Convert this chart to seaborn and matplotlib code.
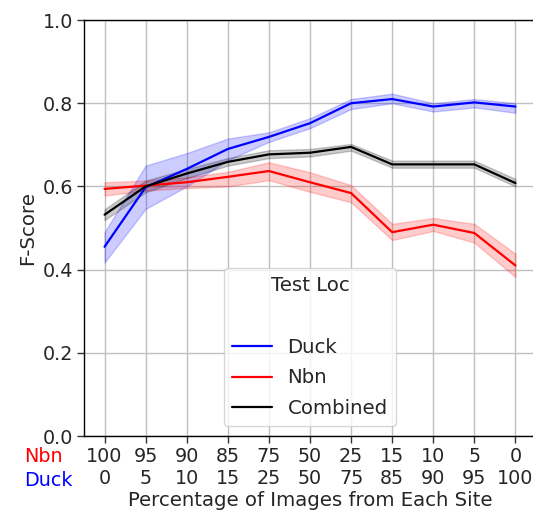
import numpy as np
import pandas as pd
import matplotlib
matplotlib.use("Agg")
import matplotlib.pyplot as plt
import seaborn as sns
from matplotlib.lines import Line2D

nbn_pct = ["100", "95", "90", "85", "75", "50", "25", "15", "10", "5", "0"]
duck_pct = ["0", "5", "10", "15", "25", "50", "75", "85", "90", "95", "100"]

duck_mid = [0.455, 0.598, 0.642, 0.690, 0.719, 0.752, 0.800, 0.810, 0.792, 0.802, 0.792]
duck_lo = [0.417, 0.546, 0.600, 0.663, 0.707, 0.740, 0.786, 0.800, 0.780, 0.790, 0.777]
duck_hi = [0.490, 0.650, 0.680, 0.715, 0.730, 0.764, 0.810, 0.823, 0.800, 0.810, 0.800]

nbn_mid = [0.594, 0.602, 0.610, 0.623, 0.637, 0.610, 0.584, 0.490, 0.508, 0.488, 0.410]
nbn_lo = [0.578, 0.590, 0.596, 0.600, 0.615, 0.587, 0.562, 0.471, 0.493, 0.465, 0.382]
nbn_hi = [0.610, 0.614, 0.622, 0.635, 0.658, 0.634, 0.603, 0.510, 0.524, 0.510, 0.438]

comb_mid = [0.532, 0.600, 0.631, 0.659, 0.677, 0.681, 0.695, 0.653, 0.653, 0.653, 0.608]
comb_lo = [0.519, 0.586, 0.620, 0.650, 0.668, 0.672, 0.686, 0.645, 0.645, 0.645, 0.600]
comb_hi = [0.545, 0.614, 0.642, 0.668, 0.687, 0.690, 0.702, 0.662, 0.662, 0.662, 0.618]

series = {"Duck": (duck_lo, duck_mid, duck_hi),
          "Nbn": (nbn_lo, nbn_mid, nbn_hi),
          "Combined": (comb_lo, comb_mid, comb_hi)}
colors = {"Duck": "blue", "Nbn": "red", "Combined": "black"}

rows = []
for name, arrs in series.items():
    for vals in arrs:
        for i, v in enumerate(vals):
            rows.append({"x": i, "F-Score": v, "Test Loc": name})
df = pd.DataFrame(rows)

sns.set_style("whitegrid")
plt.rcParams["font.family"] = ["DejaVu Sans"]
FS = 14.2
TFS = 13.8

fig = plt.figure(figsize=(5.33, 5.2), dpi=100)
ax = fig.add_axes([0.1576, 0.1615, 0.848, 0.80])

sns.lineplot(data=df, x="x", y="F-Score", hue="Test Loc", palette=colors,
             estimator=np.median, errorbar=lambda v: (v.min(), v.max()),
             linewidth=1.6, ax=ax, legend=False,
             err_kws={"alpha": 0.2, "linewidth": 1.0})

ax.set_xlim(-0.5, 10.5)
ax.set_ylim(0.0, 1.0)
ax.set_xticks(range(11))
ax.set_xticklabels([f"{a}\n{b}" for a, b in zip(nbn_pct, duck_pct)], fontsize=TFS,
                   linespacing=1.2)
ax.set_yticks([0.0, 0.2, 0.4, 0.6, 0.8, 1.0])
ax.set_yticklabels(["0.0", "0.2", "0.4", "0.6", "0.8", "1.0"], fontsize=TFS)
ax.set_xlabel("Percentage of Images from Each Site", fontsize=FS, labelpad=2)
ax.set_ylabel("F-Score", fontsize=FS, labelpad=4)
ax.tick_params(axis="both", which="major", length=5, width=1, color="#333333",
               direction="out", bottom=True, left=True, pad=3)
ax.grid(True, color="#c0c0c0", linewidth=1)
for side in ["left", "bottom", "top", "right"]:
    ax.spines[side].set_color("black")
    ax.spines[side].set_linewidth(1)

fig.text(24 / 533, 1 - 456 / 520, "Nbn", color="red", fontsize=TFS, ha="left", va="center")
fig.text(24 / 533, 1 - 480 / 520, "Duck", color="blue", fontsize=TFS, ha="left", va="center")

handles = [Line2D([], [], color="none")] + [Line2D([], [], color=colors[k], linewidth=1.6)
                                           for k in ["Duck", "Nbn", "Combined"]]
labels = ["", "Duck", "Nbn", "Combined"]
leg = ax.legend(handles, labels, title="Test Loc", loc="lower center", fontsize=FS,
                title_fontsize=FS, frameon=True, borderaxespad=0.5, labelspacing=0.6)
leg.get_frame().set_edgecolor("#cccccc")

fig.savefig("out.png", dpi=100)
